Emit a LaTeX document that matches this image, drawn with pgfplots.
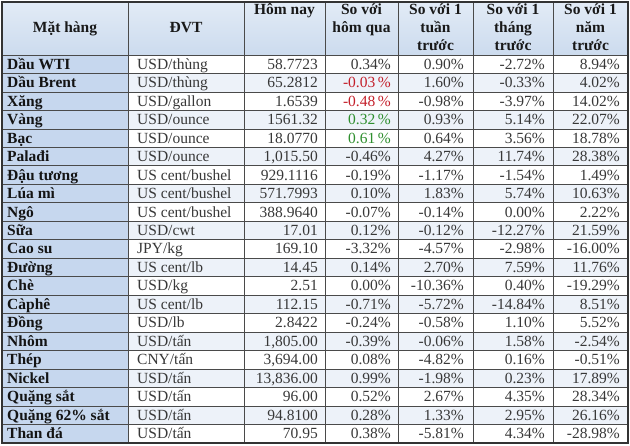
\documentclass[border=0pt]{standalone}
\usepackage{pgfplots}
\usepackage{pgfplotstable}
\pgfplotsset{compat=1.18}
\usepackage{fontspec}
\setmainfont{Liberation Serif}
\definecolor{hdrtop}{HTML}{E2EBF6}
\definecolor{hdrbot}{HTML}{CCDBEE}
\definecolor{firstcol}{HTML}{C6D7EE}
\definecolor{stripe}{HTML}{EDF2F9}
\definecolor{gridc}{HTML}{4A4A4A}
\definecolor{txt}{HTML}{383838}
\definecolor{neg}{HTML}{C4202B}
\definecolor{pos}{HTML}{2F8F2F}

\pgfplotstableread[col sep=semicolon]{
i;name;unit;today;dd;wk;mo;yr
0;Dầu WTI;USD/thùng;58.7723;0.34;0.90;-2.72;8.94
1;Dầu Brent;USD/thùng;65.2812;-0.03;1.60;-0.33;4.02
2;Xăng;USD/gallon;1.6539;-0.48;-0.98;-3.97;14.02
3;Vàng;USD/ounce;1561.32;0.32;0.93;5.14;22.07
4;Bạc;USD/ounce;18.0770;0.61;0.64;3.56;18.78
5;Palađi;USD/ounce;1,015.50;-0.46;4.27;11.74;28.38
6;Đậu tương;US cent/bushel;929.1116;-0.19;-1.17;-1.54;1.49
7;Lúa mì;US cent/bushel;571.7993;0.10;1.83;5.74;10.63
8;Ngô;US cent/bushel;388.9640;-0.07;-0.14;0.00;2.22
9;Sữa;USD/cwt;17.01;0.12;-0.12;-12.27;21.59
10;Cao su;JPY/kg;169.10;-3.32;-4.57;-2.98;-16.00
11;Đường;US cent/lb;14.45;0.14;2.70;7.59;11.76
12;Chè;USD/kg;2.51;0.00;-10.36;0.40;-19.29
13;Càphê;US cent/lb;112.15;-0.71;-5.72;-14.84;8.51
14;Đồng;USD/lb;2.8422;-0.24;-0.58;1.10;5.52
15;Nhôm;USD/tấn;1,805.00;-0.39;-0.06;1.58;-2.54
16;Thép;CNY/tấn;3,694.00;0.08;-4.82;0.16;-0.51
17;Nickel;USD/tấn;13,836.00;0.99;-1.98;0.23;17.89
18;Quặng sắt;USD/tấn;96.00;0.52;2.67;4.35;28.34
19;Quặng 62\% sắt;USD/tấn;94.8100;0.28;1.33;2.95;26.16
20;Than đá;USD/tấn;70.95;0.38;-5.81;4.34;-28.98
}\data

\pgfplotsset{
  cell/.style={draw=none, mark=none, point meta=explicit symbolic,
    every node near coord/.append style={inner sep=0pt, text=txt,
      font=\fontsize{15.5}{18}\selectfont}},
  numcell/.style={cell, nodes near coords={\pgfplotspointmeta},
    every node near coord/.append style={anchor=base east}},
  pctcell/.style={cell, nodes near coords={\pgfplotspointmeta\%},
    every node near coord/.append style={anchor=base east}},
}
\newcommand{\RY}{55+18.476*(\thisrow{i}+0.5)+5}

\begin{document}
\begin{tikzpicture}
\begin{axis}[
  width=630pt, height=446pt, scale only axis,
  xmin=0, xmax=630, ymin=0, ymax=446, y dir=reverse,
  hide axis, clip=false,
]
\path (axis cs:0,0) (axis cs:630,446);
% backgrounds
\fill[top color=hdrtop, bottom color=hdrbot] (axis cs:2,2) rectangle (axis cs:628,55);
\fill[firstcol] (axis cs:2,55) rectangle (axis cs:128,443);
\pgfplotsinvokeforeach{1,3,...,19}{
  \fill[stripe] (axis cs:128,{55+18.476*#1}) rectangle (axis cs:628,{55+18.476*(#1+1)});
}
% grid lines
\pgfplotsinvokeforeach{1,...,20}{
  \draw[gridc, line width=0.8pt] (axis cs:2,{55+18.476*#1}) -- (axis cs:628,{55+18.476*#1});
}
\draw[gridc, line width=0.8pt] (axis cs:2,55) -- (axis cs:628,55);
\pgfplotsinvokeforeach{128,244,325,398,473,553}{
  \draw[gridc, line width=0.8pt] (axis cs:#1,2) -- (axis cs:#1,443);
}
\draw[black!80, line width=1.4pt] (axis cs:2,2) rectangle (axis cs:628,443);

% header
\begin{scope}[every node/.style={inner sep=0pt, anchor=base, font=\fontsize{15.5}{18}\selectfont\bfseries, text=black!90}]
\node at (axis cs:65,33) {Mặt hàng};
\node at (axis cs:186,33) {ĐVT};
\node at (axis cs:284.5,15) {Hôm nay};
\node at (axis cs:361.5,15) {So với};
\node at (axis cs:361.5,33) {hôm qua};
\node at (axis cs:435.5,15) {So với 1};
\node at (axis cs:435.5,33) {tuần};
\node at (axis cs:435.5,51) {trước};
\node at (axis cs:513,15) {So với 1};
\node at (axis cs:513,33) {tháng};
\node at (axis cs:513,51) {trước};
\node at (axis cs:590.5,15) {So với 1};
\node at (axis cs:590.5,33) {năm};
\node at (axis cs:590.5,51) {trước};
\end{scope}

% body columns
\addplot[cell, nodes near coords={\pgfplotspointmeta},
  every node near coord/.append style={anchor=base west, font=\fontsize{15.5}{18}\selectfont\bfseries, text=black!92}]
  table[x expr=7, y expr=\RY, meta=name]{\data};
\addplot[cell, nodes near coords={\pgfplotspointmeta},
  every node near coord/.append style={anchor=base west}]
  table[x expr=137, y expr=\RY, meta=unit]{\data};
\addplot[numcell] table[x expr=318, y expr=\RY, meta=today]{\data};
\addplot[pctcell, skip coords between index={1}{5}] table[x expr=391, y expr=\RY, meta=dd]{\data};
\addplot[cell, nodes near coords={\pgfplotspointmeta\,\%},
  every node near coord/.append style={anchor=base east, text=neg}]
  table[x expr=391, y expr=\RY, meta=dd, row sep=\\]{i dd\\ 1 -0.03\\ 2 -0.48\\};
\addplot[cell, nodes near coords={\pgfplotspointmeta\,\%},
  every node near coord/.append style={anchor=base east, text=pos}]
  table[x expr=391, y expr=\RY, meta=dd, row sep=\\]{i dd\\ 3 0.32\\ 4 0.61\\};
\addplot[pctcell] table[x expr=464, y expr=\RY, meta=wk]{\data};
\addplot[pctcell] table[x expr=545, y expr=\RY, meta=mo]{\data};
\addplot[pctcell] table[x expr=620, y expr=\RY, meta=yr]{\data};
\end{axis}
\end{tikzpicture}
\end{document}
